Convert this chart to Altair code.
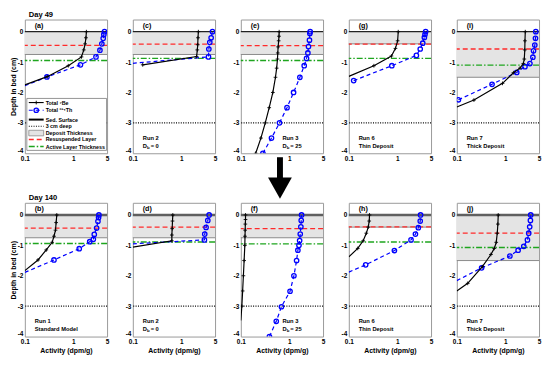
import altair as alt
import pandas as pd

# ------------------------------------------------------------------
# Profiles: depth (cm, negative = into bed) and activity (dpm/g)
# ------------------------------------------------------------------
# Day 49
BE_A_DEPTH = [0, -0.2, -0.4, -0.6, -0.83, -1.12, -1.48, -1.75]
BE_A_ACT = [1.87, 1.83, 1.76, 1.65, 1.48, 0.79, 0.29, 0.1]
TH_A_DEPTH = [0, -0.09, -0.22, -0.4, -0.61, -0.83, -1.09, -1.49, -1.78]
TH_A_ACT = [4.43, 4.29, 4.16, 3.9, 3.56, 2.95, 1.41, 0.286, 0.1]

BE_C_DEPTH = [0, -0.2, -0.43, -0.6, -0.82, -1.09]
BE_C_ACT = [2.26, 2.22, 2.19, 2.15, 2.08, 0.16]
TH_C_DEPTH = [0, -0.2, -0.35, -0.57, -0.83, -1.04]
TH_C_ACT = [4.42, 4.15, 3.89, 3.72, 3.66, 0.1]

BE_E_DEPTH = [0, -0.15, -0.3, -0.5, -0.7, -0.9, -1.2, -1.5, -2.0, -2.5, -3.0, -3.5, -4.0]
BE_E_ACT = [0.62, 0.615, 0.605, 0.59, 0.58, 0.572, 0.55, 0.52, 0.459, 0.386, 0.32, 0.26, 0.203]
TH_E_DEPTH = [0, -0.06, -0.28, -0.49, -0.7, -0.88, -1.12, -1.5, -2.0, -2.5, -3.0, -3.5, -4.0]
TH_E_ACT = [2.71, 2.67, 2.62, 2.5, 2.43, 2.28, 2.04, 1.66, 1.23, 0.9, 0.63, 0.43, 0.286]

BE_G_DEPTH = [0, -0.3, -0.55, -0.8, -1.12, -1.47]
BE_G_ACT = [1.05, 1.02, 0.92, 0.76, 0.33, 0.1]
TH_G_DEPTH = [0, -0.09, -0.19, -0.38, -0.57, -0.78, -1.12, -1.61]
TH_G_ACT = [3.87, 3.75, 3.64, 3.37, 2.99, 2.49, 0.775, 0.126]

BE_I_DEPTH = [0, -0.3, -0.6, -0.9, -1.05, -1.2, -1.35, -1.7, -2.25, -2.48]
BE_I_ACT = [2.6, 2.56, 2.54, 2.48, 2.37, 2.02, 1.48, 0.88, 0.226, 0.1]
TH_I_DEPTH = [0, -0.22, -0.44, -0.63, -0.84, -1.05, -1.15, -1.34, -1.73, -2.24]
TH_I_ACT = [4.29, 4.22, 4.09, 3.85, 3.73, 3.24, 2.56, 1.73, 0.535, 0.108]

# Day 140
BE_B_DEPTH = [0, -0.25, -0.5, -0.7, -0.9, -1.15, -1.48, -1.83]
BE_B_ACT = [0.457, 0.443, 0.43, 0.40, 0.367, 0.277, 0.187, 0.1]
TH_B_DEPTH = [0, -0.085, -0.21, -0.43, -0.64, -0.8, -0.88, -1.11, -1.48, -1.89]
TH_B_ACT = [3.39, 3.34, 3.24, 3.04, 2.72, 2.6, 2.19, 1.33, 0.40, 0.1]

BE_D_DEPTH = [0, -0.2, -0.45, -0.66, -0.85, -1.06]
BE_D_ACT = [0.67, 0.66, 0.65, 0.64, 0.64, 0.1]
TH_D_DEPTH = [0, -0.18, -0.41, -0.63, -0.82, -0.95]
TH_D_ACT = [3.77, 3.54, 3.26, 3.06, 3.01, 0.1]

BE_F_DEPTH = [0, -0.15, -0.3, -0.5, -0.7, -1.0, -1.5, -2.0, -2.5, -3.0, -3.47]
BE_F_ACT = [0.125, 0.125, 0.124, 0.123, 0.122, 0.121, 0.117, 0.113, 0.109, 0.105, 0.1]
TH_F_DEPTH = [0, -0.18, -0.39, -0.63, -0.84, -1.0, -1.16, -1.5, -2.0, -2.51, -3.02, -3.5, -4.0]
TH_F_ACT = [1.8, 1.77, 1.74, 1.69, 1.64, 1.59, 1.51, 1.42, 1.25, 1.04, 0.69, 0.54, 0.39]

BE_H_DEPTH = [0, -0.2, -0.4, -0.6, -0.85, -1.1, -1.38]
BE_H_ACT = [0.268, 0.264, 0.252, 0.23, 0.198, 0.153, 0.1]
TH_H_DEPTH = [0, -0.2, -0.42, -0.63, -0.82, -1.17, -1.64, -1.88]
TH_H_ACT = [3.04, 2.99, 2.73, 2.38, 1.93, 0.875, 0.223, 0.1]

BE_J_DEPTH = [0, -0.3, -0.6, -0.9, -1.1, -1.3, -1.7, -2.25, -2.5]
BE_J_ACT = [0.718, 0.706, 0.685, 0.653, 0.594, 0.507, 0.337, 0.168, 0.1]
TH_J_DEPTH = [0, -0.18, -0.39, -0.6, -0.82, -1.03, -1.16, -1.35, -1.74, -2.16]
TH_J_ACT = [3.37, 3.32, 3.21, 3.06, 2.88, 2.42, 1.85, 1.25, 0.326, 0.1]

# Panel order (row-major: Day 49 row, then Day 140 row)
PANEL_IDS = ["a", "c", "e", "g", "i", "b", "d", "f", "h", "j"]
DEPOSIT_CM = [0.75, 0.75, 0.75, 0.4, 1.5, 0.75, 0.75, 0.75, 0.4, 1.5]
RESUSP_CM = [0.45, 0.41, 0.46, 0.41, 0.57, 0.43, 0.40, 0.45, 0.39, 0.60]
ACTIVE_CM = [0.95, 0.88, 0.95, 0.88, 1.10, 0.94, 0.89, 0.95, 0.89, 1.07]
DEEP_CM = 3
RUN_NAMES = ["", "Run 2", "Run 3", "Run 6", "Run 7", "Run 1", "Run 2", "Run 3", "Run 6", "Run 7"]
RUN_NOTES = ["", "= 0", "= 25", "Thin Deposit", "Thick Deposit",
             "Standard Model", "= 0", "= 25", "Thin Deposit", "Thick Deposit"]
DAY_TITLES = {"a": "Day 49", "b": "Day 140"}
X_TICKS = [0.1, 1, 5]
Y_TICKS = [-4, -3, -2, -1, 0]
LEGEND_LABELS = ["Total \u2077Be", "Total \u00b2\u00b3\u2074Th", "Sed. Surface", "3 cm deep",
                 "Deposit Thickness", "Resuspended Layer", "Active Layer Thickness"]

BE = {"a": (BE_A_DEPTH, BE_A_ACT), "c": (BE_C_DEPTH, BE_C_ACT), "e": (BE_E_DEPTH, BE_E_ACT),
      "g": (BE_G_DEPTH, BE_G_ACT), "i": (BE_I_DEPTH, BE_I_ACT), "b": (BE_B_DEPTH, BE_B_ACT),
      "d": (BE_D_DEPTH, BE_D_ACT), "f": (BE_F_DEPTH, BE_F_ACT), "h": (BE_H_DEPTH, BE_H_ACT),
      "j": (BE_J_DEPTH, BE_J_ACT)}
TH = {"a": (TH_A_DEPTH, TH_A_ACT), "c": (TH_C_DEPTH, TH_C_ACT), "e": (TH_E_DEPTH, TH_E_ACT),
      "g": (TH_G_DEPTH, TH_G_ACT), "i": (TH_I_DEPTH, TH_I_ACT), "b": (TH_B_DEPTH, TH_B_ACT),
      "d": (TH_D_DEPTH, TH_D_ACT), "f": (TH_F_DEPTH, TH_F_ACT), "h": (TH_H_DEPTH, TH_H_ACT),
      "j": (TH_J_DEPTH, TH_J_ACT)}

# ------------------------------------------------------------------
# Styling / layout
# ------------------------------------------------------------------
W, H = 83, 135
FONT = "Liberation Sans"
BLUE = "#0000ff"
RED = "#ff2a2a"
GREEN = "#1ea51e"
GRAYFILL = "#e4e4e4"
PLUS = "M-1,0L1,0M0,-1L0,1"
ARROW_HEAD = "M-1,-0.8L1,-0.8L0,1Z"

XS = alt.Scale(type="log", domain=[0.1, 5], nice=False)
YS = alt.Scale(domain=[-4, 0.4], nice=False, zero=False)


def one(**kw):
    return pd.DataFrame({k: [v] for k, v in kw.items()})


def text_layer(txt, x, y, size, align="left", baseline="middle"):
    return alt.Chart(one(t=txt)).mark_text(
        align=align, baseline=baseline, font=FONT, fontSize=size,
        fontWeight="bold", color="black"
    ).encode(x=alt.value(x), y=alt.value(y), text="t:N")


def make_panel(idx):
    pid = PANEL_IDS[idx]
    row, col = divmod(idx, 5)
    xaxis = alt.Axis(values=X_TICKS, format="~g", labelFlush=False, labelPadding=2,
                     titlePadding=2, title="Activity (dpm/g)" if row == 1 else None)
    yaxis = alt.Axis(values=Y_TICKS, labelPadding=2, titlePadding=1, labelFlush=True,
                     labelExpr="datum.value < 0 ? '-' + (-datum.value) : '' + datum.value",
                     title="Depth in bed (cm)" if col == 0 else None)
    Y = alt.Y("depth:Q", scale=YS, axis=yaxis)
    X = alt.X("act:Q", scale=XS, axis=xaxis)

    layers = []
    # deposit thickness
    dep = DEPOSIT_CM[idx]
    layers.append(alt.Chart(pd.DataFrame({"depth": [0.0], "depth2": [-dep]})).mark_rect(
        color=GRAYFILL).encode(x=alt.value(0), x2=alt.value(W), y=Y, y2="depth2:Q"))
    layers.append(alt.Chart(one(depth=-dep)).mark_rule(color="#8a8a8a", strokeWidth=1).encode(y=Y))
    # sediment surface
    if row == 0:
        layers.append(alt.Chart(one(depth=0.0)).mark_rule(color="#222222", strokeWidth=1.2).encode(y=Y))
    else:
        layers.append(alt.Chart(one(depth=0.0)).mark_rule(color="#606060", strokeWidth=2.4).encode(y=Y))
    # resuspended layer, active layer, 3 cm
    layers.append(alt.Chart(one(depth=-RESUSP_CM[idx])).mark_rule(
        color=RED, strokeWidth=1.3, strokeDash=[5, 3]).encode(y=Y))
    layers.append(alt.Chart(one(depth=-ACTIVE_CM[idx])).mark_rule(
        color=GREEN, strokeWidth=1.4, strokeDash=[6, 2, 1.5, 2]).encode(y=Y))
    layers.append(alt.Chart(one(depth=-DEEP_CM)).mark_rule(
        color="black", strokeWidth=1.1, strokeDash=[1, 1.4]).encode(y=Y))

    # profiles
    bd, ba = BE[pid]
    td, ta = TH[pid]
    be = pd.DataFrame({"depth": bd, "act": ba})
    th = pd.DataFrame({"depth": td, "act": ta})
    be_pts = be[be["act"] > 0.1]
    th_pts = th[th["act"] > 0.1]
    layers.append(alt.Chart(th).mark_line(color=BLUE, strokeWidth=1.2, strokeDash=[4, 3], clip=True)
                  .encode(x=X, y=Y, order="depth:Q"))
    layers.append(alt.Chart(th_pts).mark_point(shape="circle", filled=False, color=BLUE, size=20,
                                               strokeWidth=1.3, opacity=1, clip=True)
                  .encode(x=X, y=Y))
    layers.append(alt.Chart(be).mark_line(color="black", strokeWidth=1.2, clip=True)
                  .encode(x=X, y=Y, order="depth:Q"))
    layers.append(alt.Chart(be_pts).mark_point(shape=PLUS, filled=False, color="black", size=14,
                                               strokeWidth=0.9, opacity=1, clip=True)
                  .encode(x=X, y=Y))

    # panel letter
    layers.append(text_layer("(" + pid + ")", 10, 6.5, 7.2))
    # day title
    if pid in DAY_TITLES:
        layers.append(text_layer(DAY_TITLES[pid], 4, -4.8, 7.6))
    # run labels
    if RUN_NAMES[idx]:
        rx = 42 if RUN_NAMES[idx] == "Run 3" else 10
        y1, y2 = 0.887 * H, 0.945 * H
        layers.append(text_layer(RUN_NAMES[idx], rx, y1, 5.8))
        note = RUN_NOTES[idx]
        if note.startswith("="):
            layers.append(text_layer("D", rx, y2, 5.8))
            layers.append(text_layer("b", rx + 4.4, y2 + 1.7, 4.4))
            layers.append(text_layer(note, rx + 8.0, y2, 5.8))
        else:
            layers.append(text_layer(note, rx, y2, 5.8))

    # legend in panel (a)
    if pid == "a":
        k = H / 139.0
        ly = [86.3 * k, 94.3 * k, 104 * k, 111 * k, 118 * k, 124.7 * k, 132 * k]
        layers.append(alt.Chart(one(z=0)).mark_rect(fill="white", stroke="#7a7a7a", strokeWidth=0.8)
                      .encode(x=alt.value(2), x2=alt.value(W - 0.5),
                              y=alt.value(82 * k), y2=alt.value(136 * k)))
        def seg(y, **style):
            return alt.Chart(one(z=0)).mark_rule(**style).encode(
                x=alt.value(4), x2=alt.value(19), y=alt.value(y))
        layers.append(seg(ly[0], color="black", strokeWidth=1.1))
        layers.append(alt.Chart(one(z=0)).mark_point(shape=PLUS, filled=False, color="black", size=14,
                                                     strokeWidth=0.9, opacity=1)
                      .encode(x=alt.value(11.5), y=alt.value(ly[0])))
        layers.append(seg(ly[1], color=BLUE, strokeWidth=1.2, strokeDash=[4, 3]))
        layers.append(alt.Chart(one(z=0)).mark_point(shape="circle", filled=False, color=BLUE, size=20,
                                                     strokeWidth=1.3, opacity=1)
                      .encode(x=alt.value(11.5), y=alt.value(ly[1])))
        layers.append(seg(ly[2], color="black", strokeWidth=2))
        layers.append(seg(ly[3], color="black", strokeWidth=1.1, strokeDash=[1, 1.4]))
        layers.append(alt.Chart(one(z=0)).mark_rect(fill=GRAYFILL, stroke="#8a8a8a", strokeWidth=0.8)
                      .encode(x=alt.value(4), x2=alt.value(19),
                              y=alt.value(ly[4] - 2.8), y2=alt.value(ly[4] + 2.8)))
        layers.append(seg(ly[5], color=RED, strokeWidth=1.3, strokeDash=[5, 3]))
        layers.append(seg(ly[6], color=GREEN, strokeWidth=1.4, strokeDash=[6, 2, 1.5, 2]))
        for lab, yy in zip(LEGEND_LABELS, ly):
            layers.append(text_layer(lab, 21, yy, 5.4))

    # big arrow between the rows (below panel e)
    if pid == "e":
        layers.append(alt.Chart(one(z=0)).mark_rule(color="black", strokeWidth=6)
                      .encode(x=alt.value(39.5), y=alt.value(H + 4), y2=alt.value(H + 28)))
        layers.append(alt.Chart(one(z=0)).mark_point(shape=ARROW_HEAD, filled=True, color="black",
                                                     size=576, opacity=1)
                      .encode(x=alt.value(39.5), y=alt.value(H + 34)))

    return alt.layer(*layers).properties(width=W, height=H)


panels = [make_panel(i) for i in range(10)]

chart = alt.concat(*panels, columns=5).properties(
    spacing={"row": 50, "column": 26},
    bounds="flush",
    padding=0,
).configure_view(
    stroke="#9a9a9a", strokeWidth=1
).configure_axis(
    labelFont=FONT, titleFont=FONT, labelFontWeight="bold", titleFontWeight="bold",
    labelFontSize=6.5, titleFontSize=7, labelColor="black", titleColor="black",
    grid=False, ticks=False, domain=False
)

chart.save("out.html", embed_options={"renderer": "svg", "actions": False})
